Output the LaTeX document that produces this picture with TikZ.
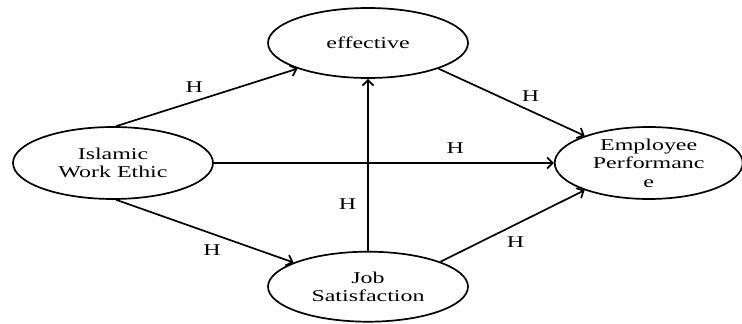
\documentclass[tikz,border=0pt]{standalone}
\usepackage{fontspec}
\setmainfont{Liberation Serif}[FakeStretch=1.45]
\usetikzlibrary{arrows.meta,positioning,shapes.geometric}
\tikzset{
    >={Straight Barb[length=5.5pt,width=11pt]},
    font=\fontsize{16.5}{18.5}\selectfont,
    construct/.style={ellipse,draw,line width=1.7pt,align=center,inner sep=0pt,minimum width=200pt,minimum height=72pt},
    path label/.style={inner sep=2pt},
    link/.style={->,line width=1.7pt}
}

\begin{document}
\begin{tikzpicture}[x=1pt,y=1pt]
    \useasboundingbox (0,0) rectangle (742,-324);
    \node[construct] (iwe) at (113,-163) {Islamic\\Work Ethic};
    \node[construct, minimum width=188pt] (perf) [right = 340pt of iwe] {Employee\\Performanc\\e};
    \node[construct, minimum height=70pt] (eff) at (368,-43) {effective};
    \node[construct, minimum height=70pt] (job) [below = 172pt of eff] {Job\\Satisfaction};
    \path
        (iwe.85) edge [link] node [path label, pos=0.43, above=6pt] {H} (eff.200)
        (eff.340) edge [link] node [path label, pos=0.63, above=7pt] {H} (perf.157)
        (iwe) edge [link] node [path label, pos=0.71, above=7pt] {H} (perf)
        (job) edge [link] node [path label, pos=0.27, left=9pt] {H} (eff)
        (iwe.275) edge [link] node [path label, pos=0.54, below=8pt] {H} (job.162)
        (job.19) edge [link] node [path label, pos=0.52, below=9pt] {H} (perf.203)
        ;
\end{tikzpicture}
\end{document}
